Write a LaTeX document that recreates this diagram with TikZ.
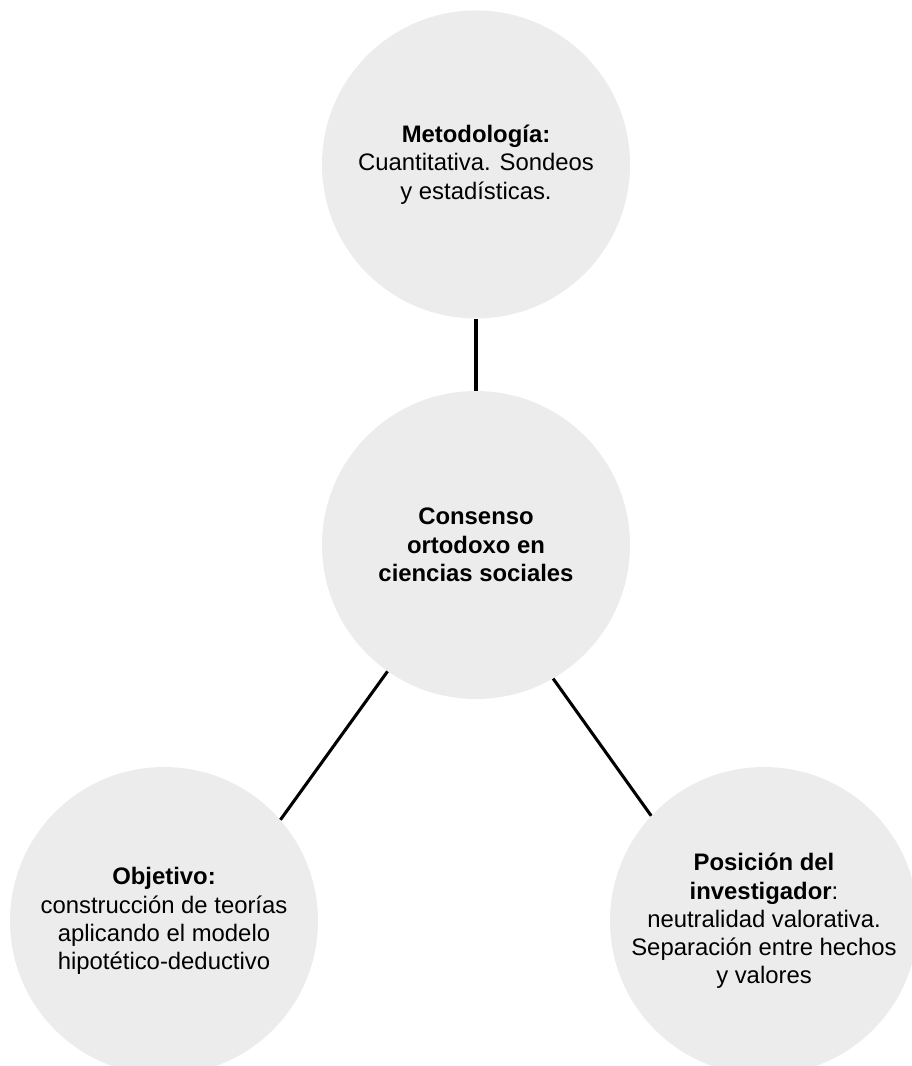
\documentclass[tikz,border=0pt]{standalone}
\usepackage{fontspec}
\setmainfont{Liberation Sans}
\usepackage{tikz}
\usetikzlibrary{positioning}
\definecolor{circlegray}{RGB}{236,236,236}

\begin{document}
\begin{tikzpicture}[
    x=0.75pt, y=-0.75pt,
    topic/.style={circle, fill=circlegray, minimum size=231pt, inner sep=0pt, align=center,
        font=\fontsize{17.9}{21.2}\selectfont},
    link/.style={line width=2.3pt}
]
\useasboundingbox (0,0) rectangle (911,1066);
\node [topic, font=\fontsize{17.9}{21.2}\selectfont\bfseries] (core) at (476,545)
    {Consenso\\ ortodoxo en\\ ciencias sociales};
\node [topic, above=54pt of core] (metodo)
    {\textbf{Metodología:}\\ Cuantitativa. Sondeos\\ y estadísticas.};
\node [topic] (objetivo) at (164,921)
    {\textbf{Objetivo:}\\ construcción de teorías\\ aplicando el modelo\\ hipotético-deductivo};
\node [topic] (posicion) at (764,921)
    {\textbf{Posición del}\\ \textbf{investigador}:\\ neutralidad valorativa.\\ Separación entre hechos\\ y valores};

\draw[link] (core) -- (metodo);
\draw[link] (core.235) -- (objetivo.41);
\draw[link] (core.-60) -- (posicion.137);
\end{tikzpicture}
\end{document}
